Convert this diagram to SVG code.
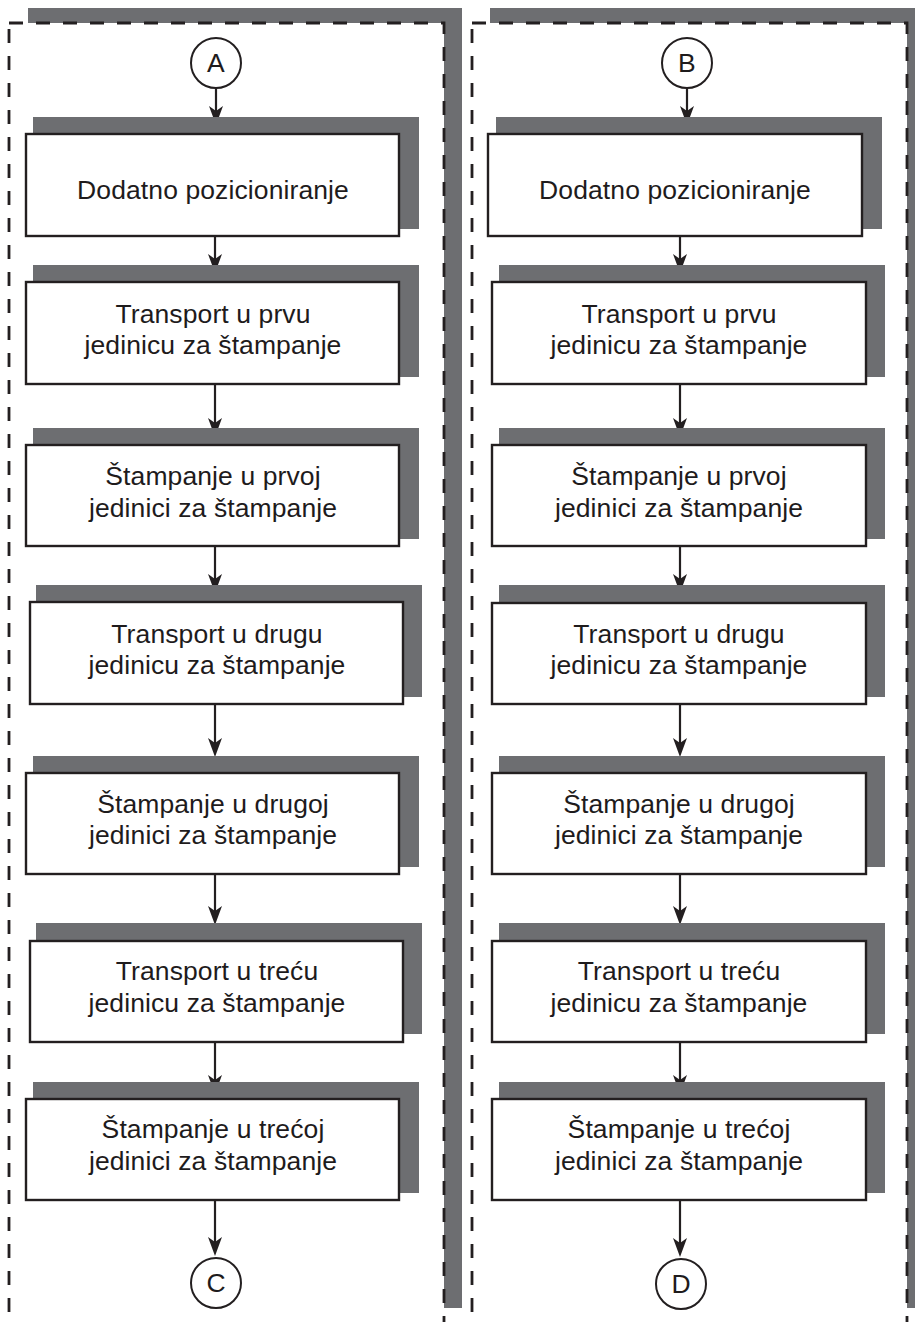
<svg xmlns="http://www.w3.org/2000/svg" xmlns:xlink="http://www.w3.org/1999/xlink" width="915" height="1322" viewBox="0 0 915 1322">
<style>
.sh{fill:#6d6e71;stroke:none}
.frame{fill:#fff;stroke:#231f20;stroke-width:2.8;stroke-dasharray:14 13}
.box{fill:#fff;stroke:#231f20;stroke-width:2.4}
.circ{fill:#fff;stroke:#231f20;stroke-width:2}
.t{font-family:"Liberation Sans",Arial,Helvetica,sans-serif;font-size:26.5px;letter-spacing:0.1px;fill:#1e1b1c;text-anchor:middle}
.c{fill:none;stroke:#231f20;stroke-width:2.2}
.ah{fill:#231f20}
</style>
<defs>
<path id="ah" d="M0,0 L-7,-19 L0,-14 L7,-19 Z"/>
</defs>
<rect width="915" height="1322" fill="#fff"/>
<g id="panel-left">
<rect class="sh" x="28" y="8" width="434" height="1300"/>
<rect class="frame" x="9" y="23" width="435" height="1330"/>
</g>
<g id="panel-right">
<rect class="sh" x="490" y="8" width="440" height="1300"/>
<rect class="frame" x="472" y="23" width="435" height="1330"/>
</g>
<g id="conn">
<path class="c" d="M216 88 V113"/><use class="ah" xlink:href="#ah" href="#ah" x="216" y="125"/>
<path class="c" d="M215 236 V261"/><use class="ah" xlink:href="#ah" href="#ah" x="215" y="273"/>
<path class="c" d="M215 384 V425"/><use class="ah" xlink:href="#ah" href="#ah" x="215" y="437"/>
<path class="c" d="M215 546 V581"/><use class="ah" xlink:href="#ah" href="#ah" x="215" y="593"/>
<path class="c" d="M215 704 V745"/><use class="ah" xlink:href="#ah" href="#ah" x="215" y="757"/>
<path class="c" d="M215 874 V913"/><use class="ah" xlink:href="#ah" href="#ah" x="215" y="925"/>
<path class="c" d="M215 1042 V1082"/><use class="ah" xlink:href="#ah" href="#ah" x="215" y="1094"/>
<path class="c" d="M215 1200 V1244"/><use class="ah" xlink:href="#ah" href="#ah" x="215" y="1256"/>
<path class="c" d="M687 88 V113"/><use class="ah" xlink:href="#ah" href="#ah" x="687" y="125"/>
<path class="c" d="M680 236 V261"/><use class="ah" xlink:href="#ah" href="#ah" x="680" y="273"/>
<path class="c" d="M680 384 V425"/><use class="ah" xlink:href="#ah" href="#ah" x="680" y="437"/>
<path class="c" d="M680 546 V581"/><use class="ah" xlink:href="#ah" href="#ah" x="680" y="593"/>
<path class="c" d="M680 704 V745"/><use class="ah" xlink:href="#ah" href="#ah" x="680" y="757"/>
<path class="c" d="M680 874 V913"/><use class="ah" xlink:href="#ah" href="#ah" x="680" y="925"/>
<path class="c" d="M680 1042 V1082"/><use class="ah" xlink:href="#ah" href="#ah" x="680" y="1094"/>
<path class="c" d="M680 1200 V1245"/><use class="ah" xlink:href="#ah" href="#ah" x="680" y="1257"/>
</g>
<g id="A"><circle class="circ" cx="216" cy="63" r="25"/><text class="t" x="216" y="72">A</text></g>
<g id="B"><circle class="circ" cx="687" cy="63" r="25"/><text class="t" x="687" y="72">B</text></g>
<g id="C"><circle class="circ" cx="216" cy="1283" r="25"/><text class="t" x="216" y="1292">C</text></g>
<g id="D"><circle class="circ" cx="681" cy="1284" r="25"/><text class="t" x="681" y="1293">D</text></g>

<g id="L1"><rect class="sh" x="33" y="117" width="386" height="112"/><rect class="box" x="26" y="134" width="373" height="102"/><text class="t" x="213" y="199">Dodatno pozicioniranje</text></g>
<g id="L2"><rect class="sh" x="33" y="265" width="386" height="112"/><rect class="box" x="26" y="282" width="373" height="102"/><text class="t" x="213" y="323">Transport u prvu</text><text class="t" x="213" y="354">jedinicu za štampanje</text></g>
<g id="L3"><rect class="sh" x="33" y="428" width="386" height="111"/><rect class="box" x="26" y="445" width="373" height="101"/><text class="t" x="213" y="485">Štampanje u prvoj</text><text class="t" x="213" y="517">jedinici za štampanje</text></g>
<g id="L4"><rect class="sh" x="36" y="585" width="386" height="112"/><rect class="box" x="30" y="602" width="373" height="102"/><text class="t" x="217" y="643">Transport u drugu</text><text class="t" x="217" y="674">jedinicu za štampanje</text></g>
<g id="L5"><rect class="sh" x="33" y="756" width="386" height="111"/><rect class="box" x="26" y="773" width="373" height="101"/><text class="t" x="213" y="813">Štampanje u drugoj</text><text class="t" x="213" y="844">jedinici za štampanje</text></g>
<g id="L6"><rect class="sh" x="36" y="923" width="386" height="111"/><rect class="box" x="30" y="941" width="373" height="101"/><text class="t" x="217" y="980">Transport u treću</text><text class="t" x="217" y="1012">jedinicu za štampanje</text></g>
<g id="L7"><rect class="sh" x="33" y="1082" width="386" height="111"/><rect class="box" x="26" y="1099" width="373" height="101"/><text class="t" x="213" y="1138">Štampanje u trećoj</text><text class="t" x="213" y="1170">jedinici za štampanje</text></g>

<g id="R1"><rect class="sh" x="496" y="117" width="386" height="112"/><rect class="box" x="488" y="134" width="374" height="102"/><text class="t" x="675" y="199">Dodatno pozicioniranje</text></g>
<g id="R2"><rect class="sh" x="499" y="265" width="386" height="112"/><rect class="box" x="492" y="282" width="374" height="102"/><text class="t" x="679" y="323">Transport u prvu</text><text class="t" x="679" y="354">jedinicu za štampanje</text></g>
<g id="R3"><rect class="sh" x="499" y="428" width="386" height="111"/><rect class="box" x="492" y="445" width="374" height="101"/><text class="t" x="679" y="485">Štampanje u prvoj</text><text class="t" x="679" y="517">jedinici za štampanje</text></g>
<g id="R4"><rect class="sh" x="499" y="585" width="386" height="112"/><rect class="box" x="492" y="603" width="374" height="101"/><text class="t" x="679" y="643">Transport u drugu</text><text class="t" x="679" y="674">jedinicu za štampanje</text></g>
<g id="R5"><rect class="sh" x="499" y="756" width="386" height="111"/><rect class="box" x="492" y="773" width="374" height="101"/><text class="t" x="679" y="813">Štampanje u drugoj</text><text class="t" x="679" y="844">jedinici za štampanje</text></g>
<g id="R6"><rect class="sh" x="499" y="923" width="386" height="111"/><rect class="box" x="492" y="941" width="374" height="101"/><text class="t" x="679" y="980">Transport u treću</text><text class="t" x="679" y="1012">jedinicu za štampanje</text></g>
<g id="R7"><rect class="sh" x="499" y="1082" width="386" height="111"/><rect class="box" x="492" y="1099" width="374" height="101"/><text class="t" x="679" y="1138">Štampanje u trećoj</text><text class="t" x="679" y="1170">jedinici za štampanje</text></g>
</svg>
